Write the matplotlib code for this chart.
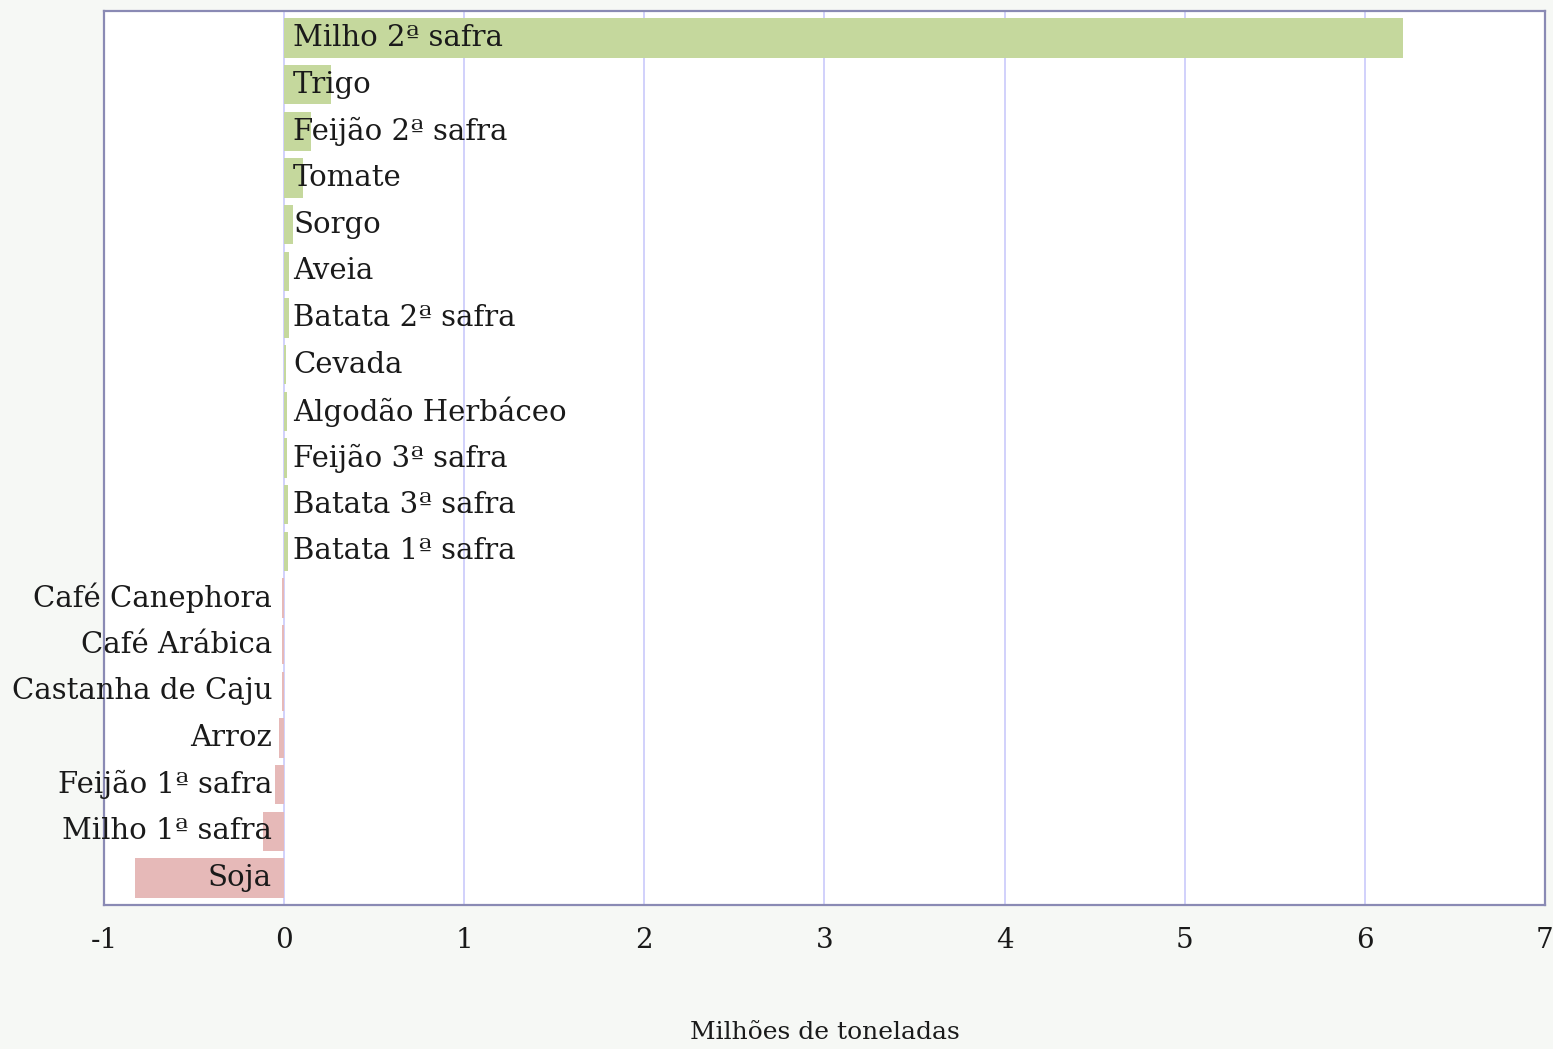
import matplotlib.pyplot as plt
import numpy as np

# variação da produção por cultura (milhões de toneladas)
culturas = ['Milho 2ª safra', 'Trigo', 'Feijão 2ª safra', 'Tomate', 'Sorgo', 'Aveia',
            'Batata 2ª safra', 'Cevada', 'Algodão Herbáceo', 'Feijão 3ª safra',
            'Batata 3ª safra', 'Batata 1ª safra', 'Café Canephora', 'Café Arábica',
            'Castanha de Caju', 'Arroz', 'Feijão 1ª safra', 'Milho 1ª safra', 'Soja']
variacao = [6.21, 0.26, 0.15, 0.105, 0.05, 0.028, 0.025, 0.01, 0.015, 0.015,
            0.02, 0.02, -0.01, -0.01, -0.01, -0.03, -0.05, -0.12, -0.83]
xticks = [-1, 0, 1, 2, 3, 4, 5, 6, 7]

verde = '#c5d89d'
vermelho = '#e6b9b8'
fonte = 'DejaVu Serif'

fig = plt.figure(figsize=(15.53, 10.49), dpi=100)
fig.patch.set_facecolor('#f6f8f5')
ax = fig.add_axes([0.067, 0.1373, 0.9278, 0.8522])
ax.set_facecolor('white')

y = np.arange(len(culturas))
cores = [verde if v >= 0 else vermelho for v in variacao]
ax.barh(y, variacao, height=0.84, color=cores, zorder=2)

for yi, nome, v in zip(y, culturas, variacao):
    if v >= 0:
        ax.text(0.05, yi, nome, ha='left', va='center', fontsize=21,
                family=fonte, color='#1a1a1a', zorder=3)
    else:
        ax.text(-0.067, yi, nome, ha='right', va='center', fontsize=21,
                family=fonte, color='#1a1a1a', zorder=3, clip_on=False)

ax.set_xlim(-1, 7)
ax.set_ylim(len(culturas) - 0.42, -0.58)
ax.set_yticks([])
ax.set_xticks(xticks)
ax.set_xticklabels([str(t) for t in xticks], family=fonte, fontsize=20, color='#1a1a1a')
ax.tick_params(axis='x', length=0, pad=16)
ax.grid(axis='x', color='#c9c9fb', linewidth=1.2, zorder=1)
ax.set_axisbelow(True)
for s in ax.spines.values():
    s.set_color('#8a8ab4')
    s.set_linewidth(1.6)

ax.set_xlabel('Milhões de toneladas', family=fonte, fontsize=18, color='#1a1a1a', labelpad=48)

plt.savefig('out.png', dpi=100, facecolor=fig.get_facecolor())
